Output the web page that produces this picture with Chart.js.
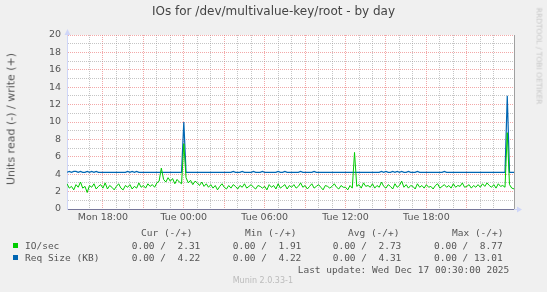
<!DOCTYPE html>
<html>
<head>
<meta charset="utf-8">
<script src="https://cdn.jsdelivr.net/npm/chart.js@4/dist/chart.umd.min.js"></script>
<style>
    html, body { margin: 0; padding: 0; background: #f0f0f0; }
    #wrap { position: relative; width: 547px; height: 292px; overflow: hidden; background: #f0f0f0; }
    #wrap canvas { position: absolute; left: 0; top: 0; }
    .txt { position: absolute; white-space: pre; color: #555; }
    .mono { font-family: "DejaVu Sans Mono", monospace; font-size: 9.5px; line-height: 12px; }
    .sq { position: absolute; width: 5px; height: 5px; }
</style>
</head>
<body>
<div id="wrap">
    <canvas id="chart" width="547" height="292"></canvas>
    <div class="txt" id="title" style="left:0;width:547px;top:4px;text-align:center;font:12px 'DejaVu Sans';color:#444;"></div>
    <div class="txt" id="ytitle" style="left:10.5px;top:119px;font:11px 'DejaVu Sans';transform:translate(-50%,-50%) rotate(-90deg);"></div>
    <div class="txt" id="side" style="left:538.5px;top:56px;font:7.5px 'DejaVu Sans';color:#c8c8c8;transform:translate(-50%,-50%) rotate(90deg);">RRDTOOL / TOBI OETIKER</div>
    <div id="legend"></div>
</div>
<script>
/*
| Munin style IO graph, one day
*/

const chartTitle = "IOs for /dev/multivalue-key/root - by day";
const yTitle = "Units read (-) / write (+)";

// time axis in hours since Mon 00:00
const firstHour = 15 + 20 / 60;
const lastHour = 48.5;
const stepHours = 10 / 60;

const tickHours = [18, 24, 30, 36, 42, 48];
const tickLabels = ["Mon 18:00", "Tue 00:00", "Tue 06:00", "Tue 12:00", "Tue 18:00", "Wed 00:00"];

// IO/sec (write), 10 minute samples
const ioPerSec = [
    2.9, 2.4, 2.6, 2.2,
    2.8, 2.5, 3.1, 2.4, 2.6, 1.9,
    2.7, 2.5, 2.9, 2.3, 2.6, 2.8,
    2.4, 3.0, 2.3, 2.7, 2.5, 2.2,
    2.6, 2.9, 2.4, 2.2, 2.7, 2.5,
    2.8, 2.3, 2.6, 2.4, 3.0, 2.5,
    2.7, 2.4, 2.9, 2.6, 2.8, 2.5,
    3.0, 3.2, 4.7, 3.4, 3.1, 3.6,
    3.2, 3.5, 2.9, 3.4, 3.1, 2.9,
    7.5, 3.6, 3.0, 3.3, 2.8, 3.2,
    3.0, 2.7, 3.1, 2.6, 2.9, 2.5,
    2.8, 2.4, 2.7, 2.2, 2.6, 2.9,
    2.5, 2.3, 2.7, 2.4, 2.8, 2.6,
    2.3, 2.7, 2.5, 2.9, 2.4, 2.6,
    2.8, 2.5, 2.3, 2.7, 2.6, 2.4,
    2.6, 2.2, 2.8, 2.5, 2.7, 2.3,
    2.9, 2.4, 2.6, 2.8, 2.3, 2.7,
    2.5, 2.8, 2.4, 2.6, 3.0, 2.5,
    2.7, 2.3, 2.6, 2.9, 2.4, 2.6,
    2.8, 2.5, 2.2, 2.7, 2.6, 2.4,
    2.6, 2.9, 2.5, 2.3, 2.7, 2.5,
    2.5, 2.2, 2.7, 2.4, 6.5, 2.6,
    2.8, 2.4, 3.0, 2.6, 2.7, 2.5,
    2.9, 2.4, 2.7, 2.5, 3.1, 2.6,
    2.4, 2.8, 2.6, 2.3, 2.9, 2.5,
    2.7, 3.2, 2.5, 2.8, 2.4, 2.7,
    2.6, 2.3, 2.9, 2.5, 2.7, 2.4,
    2.8, 2.5, 2.6, 2.3, 2.7, 2.9,
    2.4, 2.6, 2.8, 2.5, 2.7, 2.4,
    2.9, 2.5, 2.7, 2.6, 3.0, 2.5,
    2.6, 2.8, 2.4, 2.7, 2.5, 2.8,
    2.5, 2.9, 2.6, 3.0, 2.7, 2.5,
    2.8, 2.4, 2.9, 2.6, 2.7, 2.5,
    8.77, 2.8, 2.4, 2.31
];

// Req Size (KB)
const reqSizeKB = [
    4.22, 4.33, 4.22, 4.33,
    4.33, 4.22, 4.33, 4.22, 4.22, 4.33,
    4.22, 4.33, 4.22, 4.33, 4.22, 4.22,
    4.22, 4.22, 4.22, 4.22, 4.22, 4.22,
    4.22, 4.22, 4.22, 4.22, 4.22, 4.33,
    4.22, 4.33, 4.22, 4.33, 4.22, 4.22,
    4.22, 4.22, 4.22, 4.22, 4.22, 4.22,
    4.22, 4.22, 4.22, 4.22, 4.22, 4.22,
    4.22, 4.22, 4.22, 4.22, 4.22, 4.22,
    10.0, 4.22, 4.22, 4.22, 4.22, 4.22,
    4.22, 4.22, 4.22, 4.22, 4.22, 4.22,
    4.22, 4.22, 4.22, 4.22, 4.22, 4.22,
    4.22, 4.22, 4.22, 4.22, 4.33, 4.22,
    4.22, 4.22, 4.33, 4.22, 4.22, 4.22,
    4.22, 4.33, 4.22, 4.22, 4.22, 4.33,
    4.22, 4.22, 4.22, 4.22, 4.22, 4.22,
    4.33, 4.22, 4.22, 4.33, 4.22, 4.22,
    4.22, 4.22, 4.22, 4.22, 4.33, 4.22,
    4.22, 4.22, 4.22, 4.22, 4.33, 4.22,
    4.22, 4.22, 4.22, 4.22, 4.22, 4.22,
    4.22, 4.22, 4.22, 4.22, 4.22, 4.22,
    4.22, 4.22, 4.22, 4.22, 4.22, 4.22,
    4.22, 4.22, 4.22, 4.22, 4.22, 4.22,
    4.22, 4.22, 4.22, 4.22, 4.33, 4.22,
    4.33, 4.22, 4.22, 4.33, 4.22, 4.33,
    4.22, 4.33, 4.22, 4.22, 4.33, 4.22,
    4.22, 4.22, 4.33, 4.22, 4.22, 4.22,
    4.22, 4.22, 4.22, 4.22, 4.22, 4.22,
    4.22, 4.22, 4.33, 4.22, 4.22, 4.22,
    4.22, 4.22, 4.22, 4.22, 4.22, 4.22,
    4.22, 4.22, 4.22, 4.22, 4.22, 4.22,
    4.22, 4.22, 4.22, 4.22, 4.22, 4.22,
    4.22, 4.22, 4.22, 4.22, 4.22, 4.22,
    13.01, 4.22, 4.22, 4.22
];

const seriesNames = ["IO/sec", "Req Size (KB)"];
const seriesColors = ["#00cc00", "#0066b3"];
const legendHeads = ["Cur (-/+)", "Min (-/+)", "Avg (-/+)", "Max (-/+)"];
const legendIO = ["0.00 /  2.31", "0.00 /  1.91", "0.00 /  2.73", "0.00 /  8.77"];
const legendReq = ["0.00 /  4.22", "0.00 /  4.22", "0.00 /  4.31", "0.00 / 13.01"];
const lastUpdate = "Last update: Wed Dec 17 00:30:00 2025";
const footer = "Munin 2.0.33-1";

const GRID = "rgba(150,150,150,0.55)";
const MGRID = "rgba(235,110,110,0.6)";
const AXIS = "#cfd6f8";

document.getElementById("title").textContent = chartTitle;
document.getElementById("ytitle").textContent = yTitle;

// legend block
const legend = document.getElementById("legend");
function addText(text, left, centerY, cls, style) {
    const el = document.createElement("div");
    el.className = "txt " + (cls || "");
    el.textContent = text;
    el.style.left = left + "px";
    el.style.top = (centerY - 6) + "px";
    if (style) el.setAttribute("style", el.getAttribute("style") + ";" + style);
    legend.appendChild(el);
}
const headX = [141, 245, 348, 452];
const valX = [131.7, 232.7, 332.7, 434];
legendHeads.forEach((h, i) => addText(h, headX[i], 233, "mono"));
[legendIO, legendReq].forEach((row, r) => {
    const cy = 245.6 + r * 12;
    const sq = document.createElement("div");
    sq.className = "sq";
    sq.style.left = "13px";
    sq.style.top = (cy - 3) + "px";
    sq.style.background = seriesColors[r];
    legend.appendChild(sq);
    addText(seriesNames[r], 25, cy, "mono");
    row.forEach((v, i) => addText(v, valX[i], cy, "mono"));
});
addText(lastUpdate, 297.7, 269.7, "mono");
addText(footer, 232.7, 281, "", "font:8px 'DejaVu Sans';color:#bbb;line-height:12px");

function toPoints(values) {
    return values.map((v, i) => ({ x: firstHour + i * stepHours, y: v }));
}

function isWhole(v) {
    return Math.abs(v - Math.round(v)) < 1e-6;
}

const canvasBack = {
    id: "canvasBack",
    beforeDraw(chart) {
        const { ctx, chartArea: a } = chart;
        ctx.save();
        ctx.fillStyle = "#ffffff";
        ctx.fillRect(a.left, a.top, a.right - a.left, a.bottom - a.top);
        ctx.restore();
    },
    afterDraw(chart) {
        const { ctx, chartArea: a } = chart;
        ctx.save();
        // right frame line
        ctx.strokeStyle = "#a0a0a0";
        ctx.lineWidth = 1;
        ctx.beginPath();
        ctx.moveTo(Math.round(a.right) + 0.5, a.top);
        ctx.lineTo(Math.round(a.right) + 0.5, a.bottom);
        ctx.stroke();
        // axis arrows
        ctx.fillStyle = AXIS;
        ctx.strokeStyle = AXIS;
        ctx.beginPath();
        ctx.moveTo(a.left + 0.5, a.top - 6);
        ctx.lineTo(a.left - 2.5, a.top);
        ctx.lineTo(a.left + 3.5, a.top);
        ctx.closePath();
        ctx.fill();
        ctx.beginPath();
        ctx.moveTo(a.right, a.bottom + 0.5);
        ctx.lineTo(a.right + 4, a.bottom + 0.5);
        ctx.stroke();
        ctx.beginPath();
        ctx.moveTo(a.right + 8, a.bottom + 0.5);
        ctx.lineTo(a.right + 3, a.bottom - 2.5);
        ctx.lineTo(a.right + 3, a.bottom + 3.5);
        ctx.closePath();
        ctx.fill();
        ctx.restore();
    }
};

new Chart(document.getElementById("chart"), {
    type: "line",
    data: {
        datasets: [
            {
                label: seriesNames[0],
                data: toPoints(ioPerSec),
                borderColor: seriesColors[0],
                borderWidth: 1,
                pointRadius: 0,
                tension: 0,
                order: 0
            },
            {
                label: seriesNames[1],
                data: toPoints(reqSizeKB),
                borderColor: seriesColors[1],
                borderWidth: 1.2,
                pointRadius: 0,
                tension: 0,
                order: 1
            }
        ]
    },
    options: {
        responsive: false,
        animation: false,
        layout: {
            padding: { left: 5, right: 33, top: 35, bottom: 63 }
        },
        plugins: {
            legend: { display: false },
            tooltip: { enabled: false }
        },
        scales: {
            x: {
                type: "linear",
                min: firstHour,
                max: lastHour,
                afterBuildTicks: scale => {
                    scale.ticks = scale.ticks.filter(t => isWhole(t.value));
                },
                afterFit: scale => { scale.height = 20; },
                ticks: {
                    stepSize: 1,
                    autoSkip: false,
                    maxRotation: 0,
                    padding: 3,
                    color: "#555",
                    font: { family: "DejaVu Sans", size: 9.5 },
                    callback: value => {
                        const i = tickHours.indexOf(Math.round(value));
                        return i >= 0 ? tickLabels[i] : "";
                    }
                },
                grid: {
                    drawTicks: false,
                    color: ctx => Math.round(ctx.tick.value) % 3 === 0 ? MGRID : GRID
                },
                border: { display: true, color: "#77779a", width: 1, dash: [1, 1] }
            },
            y: {
                min: 0,
                max: 20,
                afterFit: scale => { scale.width = 62; },
                ticks: {
                    stepSize: 1,
                    autoSkip: false,
                    padding: 6,
                    color: "#555",
                    font: { family: "DejaVu Sans", size: 9.5 },
                    callback: value => value % 2 === 0 ? value : ""
                },
                grid: {
                    drawTicks: false,
                    color: ctx => ctx.tick.value % 2 === 0 ? MGRID : GRID
                },
                border: { display: true, color: AXIS, width: 1, dash: [1, 1] }
            }
        }
    },
    plugins: [canvasBack]
});
</script>
</body>
</html>
